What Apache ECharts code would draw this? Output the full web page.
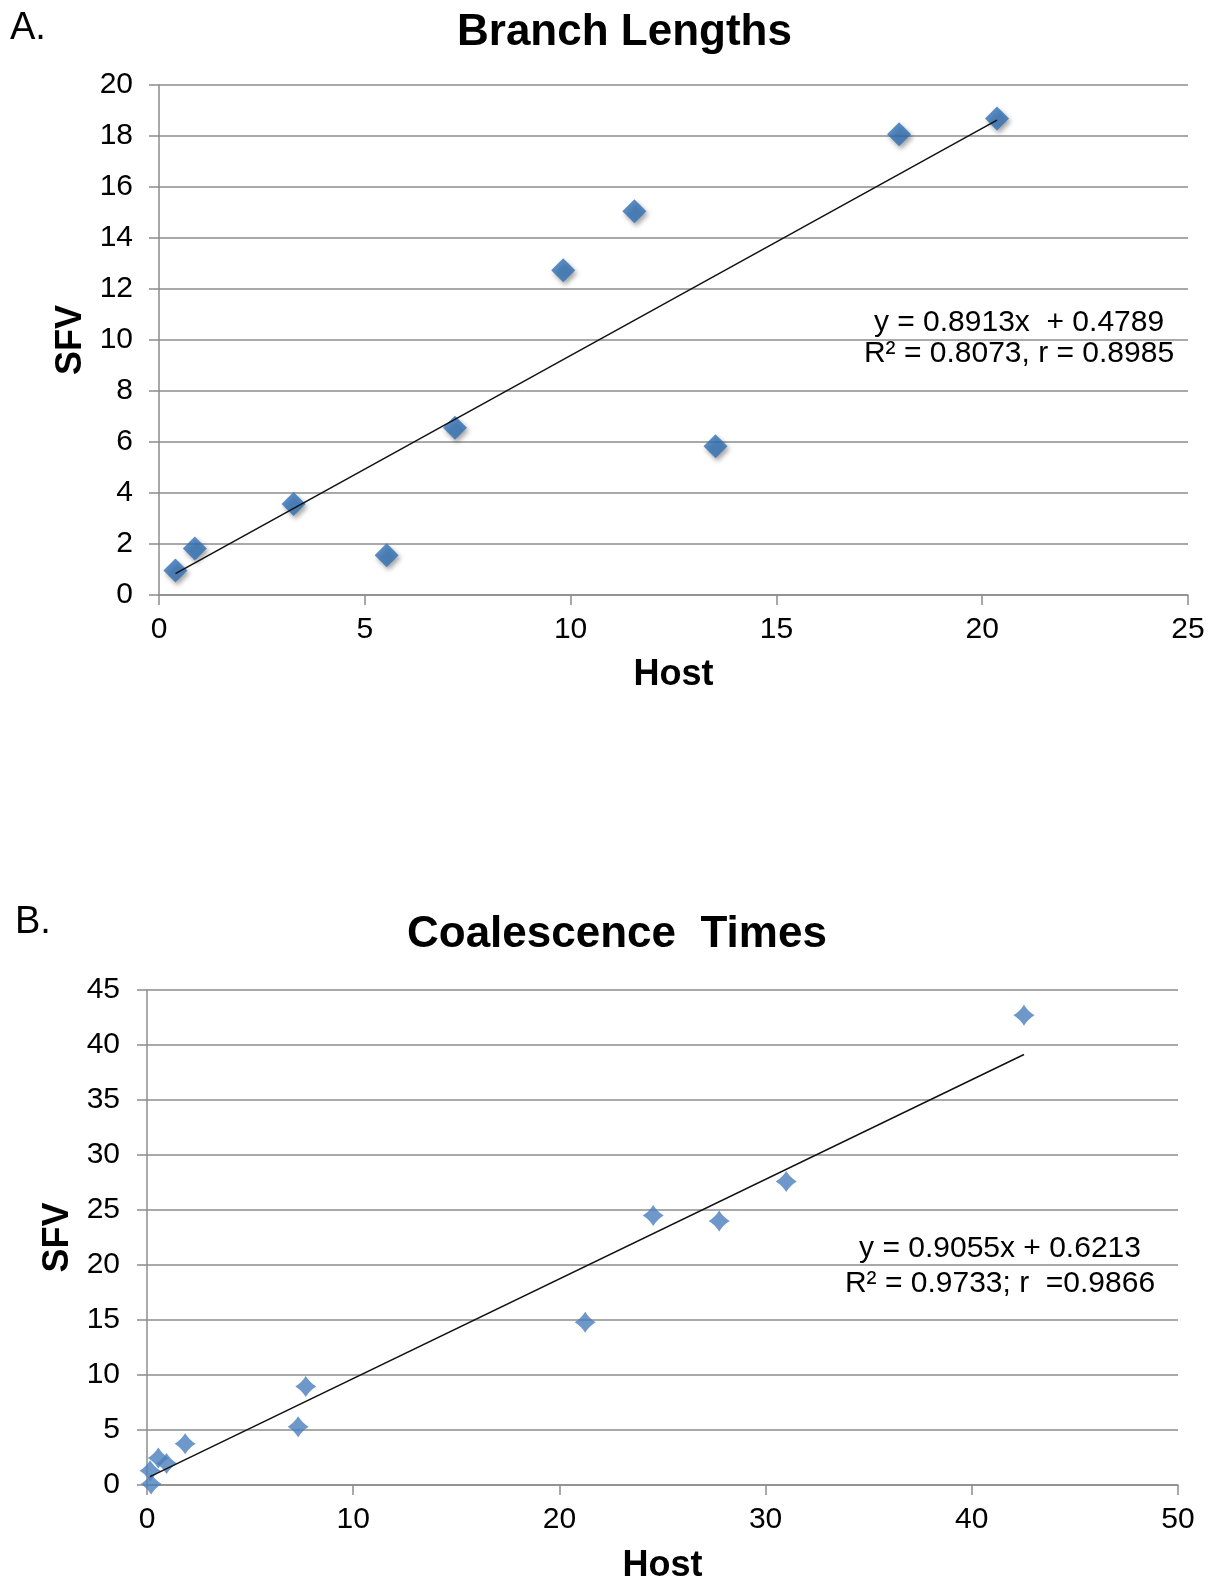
<!DOCTYPE html>
<html>
<head>
<meta charset="utf-8">
<script src="https://cdn.jsdelivr.net/npm/echarts@6/dist/echarts.min.js"></script>
<style>
  html, body { margin: 0; padding: 0; background: #fff; }
  #chart { width: 1211px; height: 1585px; }
</style>
</head>
<body>
<div id="chart"></div>
<script>
// A. branch lengths (host vs SFV)
const branchHost = [0.4, 0.87, 3.27, 5.53, 7.19, 9.82, 11.55, 13.52, 17.98, 20.36];
const branchSfv = [0.96, 1.82, 3.57, 1.56, 6.56, 12.74, 15.05, 5.83, 18.07, 18.69];
const branchFit = { slope: 0.8913, intercept: 0.4789 };
const branchEq = ["y = 0.8913x  + 0.4789", "R² = 0.8073, r = 0.8985"];

// B. coalescence times
const coalHost = [0.2, 0.15, 0.55, 0.95, 1.85, 7.33, 7.7, 21.25, 24.55, 27.75, 31.0, 42.53];
const coalSfv = [0.1, 1.3, 2.45, 1.95, 3.75, 5.3, 8.95, 14.8, 24.5, 24.0, 27.6, 42.7];
const coalFit = { slope: 0.9055, intercept: 0.6213 };
const coalEq = ["y = 0.9055x + 0.6213", "R² = 0.9733; r  =0.9866"];

const FONT = "Liberation Sans, Arial, sans-serif";
const gridGray = "#8c8c8c";

const pairs = (xs, ys) => xs.map((x, i) => [x, ys[i]]);
// trendline drawn over the data range, like excel does
const fitLine = (xs, fit) => {
  const lo = Math.min(...xs), hi = Math.max(...xs);
  return [[lo, fit.slope * lo + fit.intercept], [hi, fit.slope * hi + fit.intercept]];
};

const chart = echarts.init(document.getElementById("chart"));

const mkX = (gridIndex, max, interval, gap) => ({
  gridIndex, type: "value", min: 0, max, interval,
  name: "Host", nameLocation: "middle", nameGap: gap,
  nameTextStyle: { fontFamily: FONT, fontSize: 36, fontWeight: "bold", color: "#000" },
  axisLine: { show: true, lineStyle: { color: gridGray, width: 1.5 } },
  axisTick: { show: true, length: 10, lineStyle: { color: gridGray, width: 1.5 } },
  axisLabel: { fontFamily: FONT, fontSize: 30, color: "#000", margin: 20 },
  splitLine: { show: false }
});
const mkY = (gridIndex, max, interval, margin) => ({
  gridIndex, type: "value", min: 0, max, interval,
  name: "SFV", nameLocation: "middle", nameGap: 66, nameRotate: 90,
  nameTextStyle: { fontFamily: FONT, fontSize: 36, fontWeight: "bold", color: "#000" },
  axisLine: { show: true, lineStyle: { color: gridGray, width: 1.5 } },
  axisTick: { show: true, length: 10, lineStyle: { color: gridGray, width: 1.5 } },
  axisLabel: { fontFamily: FONT, fontSize: 30, color: "#000", margin },
  splitLine: { show: true, lineStyle: { color: gridGray, width: 1.5 } }
});

const eqText = (lines, cx, y1, y2) => lines.map((t, i) => ({
  type: "text", x: cx, y: i === 0 ? y1 : y2,
  style: { text: t, fontFamily: FONT, fontSize: 30, fill: "#000", align: "center", verticalAlign: "middle" }
}));

const option = {
  backgroundColor: "#fff",
  animation: false,
  title: [
    { text: "Branch Lengths", left: 452, top: 6,
      textStyle: { fontFamily: FONT, fontSize: 44, fontWeight: "bold", color: "#000" } },
    { text: "Coalescence  Times", left: 402, top: 908,
      textStyle: { fontFamily: FONT, fontSize: 44, fontWeight: "bold", color: "#000" } }
  ],
  grid: [
    { left: 159, right: 23, top: 85, height: 510 },
    { left: 147, right: 33, top: 990, height: 498 }
  ],
  xAxis: [mkX(0, 25, 5, 62), mkX(1, 50, 10, 63)],
  yAxis: [mkY(0, 20, 2, 26), mkY(1, 45, 5, 27)],
  series: [
    {
      type: "scatter", xAxisIndex: 0, yAxisIndex: 0,
      data: pairs(branchHost, branchSfv),
      symbol: "diamond", symbolSize: [24, 24],
      itemStyle: { color: "#3270b7", shadowColor: "rgba(0,0,0,0.45)", shadowBlur: 5, shadowOffsetX: 2, shadowOffsetY: 3 },
      z: 2
    },
    {
      type: "line", xAxisIndex: 0, yAxisIndex: 0,
      data: fitLine(branchHost, branchFit),
      symbol: "none", lineStyle: { color: "#111", width: 1.5 }, z: 3
    },
    {
      type: "scatter", xAxisIndex: 1, yAxisIndex: 1,
      data: pairs(coalHost, coalSfv),
      symbol: "path://M10,0 Q13.8,6.2 20,10 Q13.8,13.8 10,20 Q6.2,13.8 0,10 Q6.2,6.2 10,0 Z",
      symbolSize: [21, 21],
      itemStyle: { color: "#4a7ebb" },
      z: 2
    },
    {
      type: "line", xAxisIndex: 1, yAxisIndex: 1,
      data: fitLine(coalHost, coalFit),
      symbol: "none", lineStyle: { color: "#111", width: 1.5 }, z: 3
    }
  ],
  graphic: [
    { type: "text", x: 10, y: 10, style: { text: "A.", fontFamily: FONT, fontSize: 38, fill: "#000" } },
    { type: "text", x: 15, y: 904, style: { text: "B.", fontFamily: FONT, fontSize: 38, fill: "#000" } },
    ...eqText(branchEq, 1019, 323, 354),
    ...eqText(coalEq, 1000, 1249, 1284)
  ]
};

chart.setOption(option);
</script>
</body>
</html>
